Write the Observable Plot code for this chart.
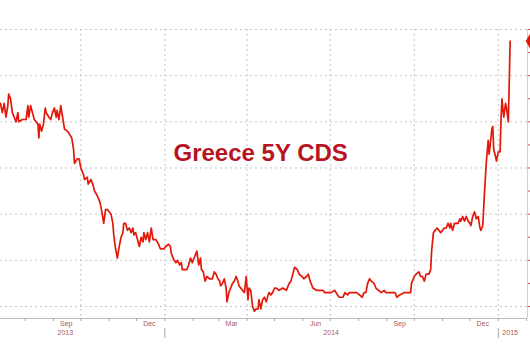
<!DOCTYPE html>
<html>
<head>
<meta charset="utf-8">
<script src="https://cdn.jsdelivr.net/npm/d3@7"></script>
<script src="https://cdn.jsdelivr.net/npm/@observablehq/plot@0.6"></script>
<style>
  html, body { margin: 0; padding: 0; background: #fff; }
  #chart { width: 530px; height: 360px; overflow: hidden; }
</style>
</head>
<body>
<div id="chart"></div>
<script>
// ---- Data ----
const dates = [
"2013-07-05","2013-07-07","2013-07-09","2013-07-11","2013-07-13","2013-07-14","2013-07-16","2013-07-18","2013-07-20","2013-07-22",
"2013-07-24","2013-07-25","2013-07-29","2013-08-02","2013-08-04","2013-08-05","2013-08-07","2013-08-09","2013-08-11","2013-08-15",
"2013-08-16","2013-08-17","2013-08-19","2013-08-21","2013-08-23","2013-08-24","2013-08-27","2013-08-29","2013-08-31","2013-09-02",
"2013-09-04","2013-09-05","2013-09-07","2013-09-09","2013-09-11","2013-09-13","2013-09-16","2013-09-18","2013-09-21","2013-09-23",
"2013-09-24","2013-09-27","2013-09-29","2013-10-01","2013-10-04","2013-10-05","2013-10-08","2013-10-09","2013-10-12","2013-10-14",
"2013-10-16","2013-10-19","2013-10-22","2013-10-24","2013-10-26","2013-10-28","2013-10-30","2013-11-03","2013-11-05","2013-11-06",
"2013-11-08","2013-11-10","2013-11-12","2013-11-14","2013-11-16","2013-11-17","2013-11-19","2013-11-21","2013-11-23","2013-11-25",
"2013-11-27","2013-11-28","2013-11-30","2013-12-02","2013-12-04","2013-12-06","2013-12-08","2013-12-09","2013-12-11","2013-12-13",
"2013-12-15","2013-12-17","2013-12-19","2013-12-20","2013-12-22","2013-12-25","2013-12-27","2013-12-31","2014-01-02","2014-01-05",
"2014-01-07","2014-01-08","2014-01-11","2014-01-13","2014-01-15","2014-01-17","2014-01-19","2014-01-20","2014-01-23","2014-01-25",
"2014-01-27","2014-01-29","2014-01-31","2014-02-02","2014-02-05","2014-02-07","2014-02-09","2014-02-10","2014-02-12","2014-02-14",
"2014-02-16","2014-02-19","2014-02-22","2014-02-24","2014-02-26","2014-02-28","2014-03-02","2014-03-03","2014-03-05","2014-03-07",
"2014-03-09","2014-03-10","2014-03-12","2014-03-14","2014-03-16","2014-03-18","2014-03-20","2014-03-22","2014-03-23","2014-03-25",
"2014-03-27","2014-03-29","2014-03-31","2014-04-02","2014-04-03","2014-04-05","2014-04-07","2014-04-09","2014-04-11","2014-04-13",
"2014-04-14","2014-04-16","2014-04-18","2014-04-20","2014-04-22","2014-04-24","2014-04-25","2014-04-27","2014-04-29","2014-05-01",
"2014-05-03","2014-05-06","2014-05-10","2014-05-14","2014-05-15","2014-05-17","2014-05-19","2014-05-21","2014-05-23","2014-05-26",
"2014-05-28","2014-05-31","2014-06-02","2014-06-05","2014-06-07","2014-06-09","2014-06-12","2014-06-16","2014-06-19","2014-06-23",
"2014-06-25","2014-06-28","2014-07-02","2014-07-06","2014-07-09","2014-07-11","2014-07-15","2014-07-17","2014-07-20","2014-07-22",
"2014-07-28","2014-07-30","2014-08-02","2014-08-05","2014-08-07","2014-08-09","2014-08-11","2014-08-13","2014-08-15","2014-08-18",
"2014-08-20","2014-08-23","2014-08-26","2014-08-29","2014-08-31","2014-09-05","2014-09-08","2014-09-10","2014-09-12","2014-09-15",
"2014-09-20","2014-09-27","2014-09-28","2014-10-01","2014-10-03","2014-10-06","2014-10-08","2014-10-10","2014-10-12","2014-10-14",
"2014-10-17","2014-10-19","2014-10-20","2014-10-22","2014-10-26","2014-10-30","2014-11-01","2014-11-03","2014-11-05","2014-11-07",
"2014-11-09","2014-11-10","2014-11-12","2014-11-14","2014-11-16","2014-11-18","2014-11-20","2014-11-21","2014-11-23","2014-11-25",
"2014-11-27","2014-11-29","2014-12-01","2014-12-02","2014-12-04","2014-12-06","2014-12-08","2014-12-10","2014-12-12","2014-12-13",
"2014-12-15","2014-12-17","2014-12-19","2014-12-21","2014-12-22","2014-12-24","2014-12-25","2014-12-26","2014-12-27","2014-12-29",
"2014-12-30","2015-01-01","2015-01-03","2015-01-04","2015-01-05","2015-01-06","2015-01-07","2015-01-09","2015-01-10","2015-01-12",
"2015-01-13","2015-01-14"
];
const cds = [
740,720,740,710,735,760,750,720,710,700,
720,700,705,705,735,710,735,720,705,695,
665,695,680,695,730,720,710,705,720,730,
710,725,705,735,710,685,680,675,665,640,
610,620,620,600,585,575,580,565,575,565,
550,540,525,505,480,510,510,500,480,455,
425,405,430,450,460,480,480,465,470,460,
470,455,460,445,430,450,440,460,445,460,
440,470,445,445,445,435,425,425,430,435,
430,415,400,395,400,390,395,380,380,380,
390,405,395,405,420,390,405,380,375,355,
365,360,360,375,370,360,355,345,350,360,
340,310,330,340,350,355,365,355,345,340,
335,330,365,315,340,335,300,290,295,295,
315,295,315,320,310,325,330,325,330,340,
340,335,340,335,340,350,355,370,385,380,
370,365,360,365,370,355,340,335,335,335,
330,330,330,335,325,320,320,330,325,330,
330,330,325,320,330,330,350,360,355,350,
340,335,330,335,330,330,330,330,320,325,
330,330,350,365,370,375,365,365,355,370,
370,380,420,460,470,460,465,470,470,480,
470,480,465,480,480,480,490,485,495,485,
495,485,480,475,495,505,490,495,470,465,
475,550,615,660,630,665,685,690,640,625,
615,635,635,705,750,730,710,740,730,700,
785,875
];
const quarterStarts = ["2013-10-01","2014-01-01","2014-04-01","2014-07-01","2014-10-01","2015-01-01"];
const monthStarts = ["2013-08-01","2013-09-01","2013-10-01","2013-11-01","2013-12-01","2014-01-01","2014-02-01","2014-03-01",
  "2014-04-01","2014-05-01","2014-06-01","2014-07-01","2014-08-01","2014-09-01","2014-10-01","2014-11-01","2014-12-01","2015-01-01","2015-02-01"];
const monthLabelDates = ["2013-09-15","2013-12-15","2014-03-15","2014-06-15","2014-09-15","2014-12-15"];
const yearLabelDates = ["2013-09-14","2014-07-02","2015-01-14"];
const yearStarts = ["2014-01-01","2015-01-01"];
const gridValues = [300,400,500,600,700,800,900];
const rightTicks = [300,350,400,450,500,550,600,650,700,750,800,850,900];
const title = "Greece 5Y CDS";

// ---- Build ----
const P = s => new Date(s + "T00:00:00Z");
const table = dates.map((d, i) => ({date: P(d), value: cds[i]}));
const xDomain = [P("2013-07-05"), P("2015-02-02")];
const yMin = 274, yMax = 900;
const W = 530, H = 360, mTop = 29, mBottom = 42, mRight = 3;
const pxPerUnit = (H - mTop - mBottom) / (yMax - yMin);
const sepY1 = yMin - 10 / pxPerUnit, sepY2 = yMin - 20 / pxPerUnit;
const labelColor = "#a85a5a";
const gridColor = "#c4c4c4";
const last = table[table.length - 1];

const chart = Plot.plot({
  width: W, height: H,
  marginLeft: 0, marginRight: mRight, marginTop: mTop, marginBottom: mBottom,
  style: {fontFamily: "'Liberation Sans', Arial, sans-serif", background: "#fff"},
  x: {type: "utc", domain: xDomain, label: null},
  y: {domain: [yMin, yMax], label: null},
  marks: [
    Plot.gridY(gridValues, {stroke: gridColor, strokeOpacity: 1, strokeDasharray: "2,3"}),
    Plot.gridX(quarterStarts.map(P), {stroke: gridColor, strokeOpacity: 1, strokeDasharray: "2,3"}),
    Plot.ruleY([yMin], {stroke: "#bdbdbd", strokeWidth: 1}),
    Plot.ruleX([xDomain[1]], {stroke: "#d0d0d0", strokeWidth: 1}),
    Plot.axisX(monthStarts.map(P), {tickSize: 3, tickFormat: () => "", stroke: "#aaa", label: null}),
    Plot.axisX(monthLabelDates.map(P), {tickSize: 0, tickPadding: 3, tickFormat: d3.utcFormat("%b"),
      fontSize: 7, fill: labelColor, color: labelColor, label: null}),
    Plot.axisX(yearLabelDates.map(P), {tickSize: 0, tickPadding: 12, tickFormat: d3.utcFormat("%Y"),
      fontSize: 7, fill: labelColor, color: labelColor, label: null}),
    Plot.ruleX(yearStarts.map(P), {y1: sepY1, y2: sepY2, stroke: "#b0a0a0", strokeWidth: 1}),
    Plot.axisY(rightTicks, {anchor: "right", tickSize: 3, tickFormat: () => "", stroke: "#c05050", label: null}),
    Plot.lineY(table, {x: "date", y: "value", stroke: "#e3170a", strokeWidth: 1.7, curve: "linear"}),
    Plot.dot([last], {x: () => xDomain[1], y: "value", symbol: "diamond", r: 5, fill: "#e3170a", stroke: "none", dx: 3}),
    Plot.text([title], {frameAnchor: "top-left", dx: 173, dy: 124, textAnchor: "start", lineAnchor: "middle",
      fontSize: 24, fontWeight: "bold", fill: "#b8141d"})
  ]
});
document.getElementById("chart").appendChild(chart);
</script>
</body>
</html>
